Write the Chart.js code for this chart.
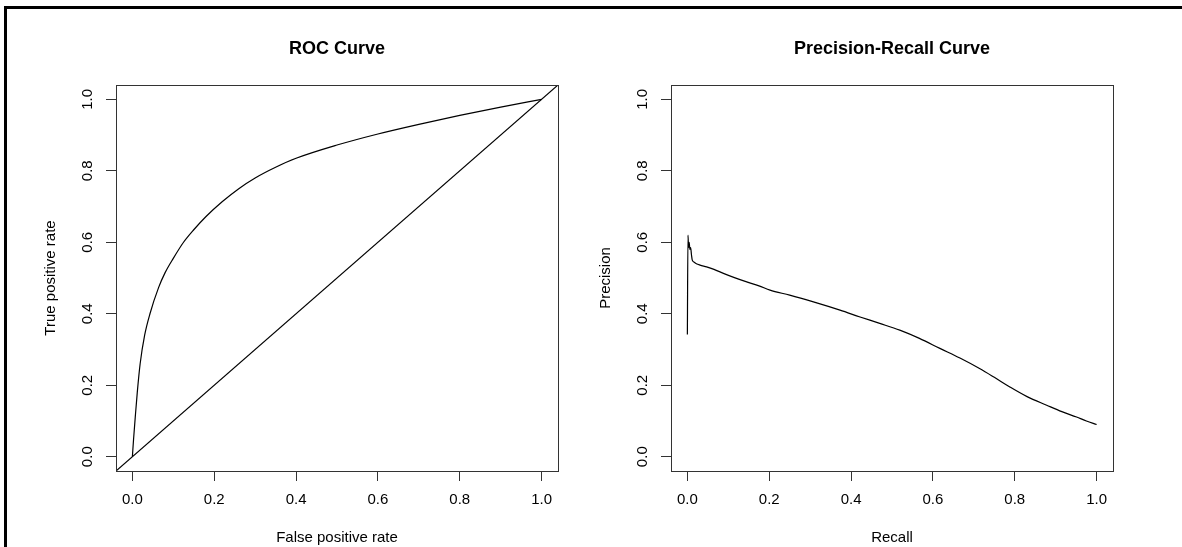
<!DOCTYPE html>
<html>
<head>
<meta charset="utf-8">
<title>ROC and Precision-Recall Curves</title>
<script src="https://cdn.jsdelivr.net/npm/chart.js@4.4.1/dist/chart.umd.min.js"></script>
<style>
  html, body { margin: 0; padding: 0; background: #fff; }
  #page { position: relative; width: 1182px; height: 547px; overflow: hidden; }
  #frame { position: absolute; left: 4px; top: 6px; right: 0; bottom: 0;
           border-top: 3px solid #000; border-left: 3px solid #000; }
  canvas { position: absolute; top: 0; }
</style>
</head>
<body>
<div id="page">
  <div id="frame"></div>
  <canvas id="roc" width="591" height="547" style="left:0"></canvas>
  <canvas id="pr" width="591" height="547" style="left:591px"></canvas>
</div>
<script>
// ROC curve, values
const fpr = [0, 0.003, 0.007, 0.012, 0.019, 0.03, 0.043, 0.064, 0.08, 0.10, 0.125, 0.15,
             0.18, 0.22, 0.26, 0.30, 0.35, 0.40, 0.50, 0.60, 0.70, 0.80, 0.90, 1.0];
const tpr = [0, 0.05, 0.11, 0.18, 0.26, 0.34, 0.40, 0.473, 0.515, 0.555, 0.60, 0.635,
             0.672, 0.714, 0.75, 0.78, 0.81, 0.835, 0.872, 0.903, 0.93, 0.955, 0.978, 1.0];

// precision-recall curve
const recall = [0, 0.0015, 0.003, 0.0045, 0.006, 0.008, 0.010, 0.012, 0.016, 0.022, 0.031, 0.047,
                0.065, 0.088, 0.115, 0.145, 0.175, 0.202, 0.25, 0.308, 0.373, 0.422, 0.470, 0.519,
                0.567, 0.617, 0.666, 0.715, 0.75, 0.788, 0.83, 0.878, 0.915, 0.951, 0.975, 1.0];
const precision = [0.342, 0.62, 0.585, 0.60, 0.58, 0.585, 0.565, 0.55, 0.545, 0.54, 0.536, 0.531,
                   0.524, 0.513, 0.501, 0.489, 0.478, 0.466, 0.452, 0.433, 0.410, 0.391, 0.373, 0.354,
                   0.331, 0.303, 0.276, 0.246, 0.222, 0.195, 0.168, 0.144, 0.126, 0.111, 0.100, 0.090];

// both axes run 0..1 with 4% slack each side (R default)
const axisMin = -0.04;
const axisMax = 1.04;
const tickValues = [0, 0.2, 0.4, 0.6, 0.8, 1.0];
const tickLabels = ['0.0', '0.2', '0.4', '0.6', '0.8', '1.0'];

const FONT = '"Liberation Sans", Arial, Helvetica, sans-serif';
const INK = '#000';

function toPoints(xs, ys) {
    return xs.map((x, i) => ({ x: x, y: ys[i] }));
}

// box around the plot region
var framePlugin = {
    id: 'frame',
    afterDraw: function(chart) {
        var a = chart.chartArea;
        var ctx = chart.ctx;
        ctx.save();
        ctx.strokeStyle = '#333';
        ctx.lineWidth = 1;
        ctx.strokeRect(a.left + 0.5, a.top + 0.5, a.right - a.left, a.bottom - a.top);
        ctx.restore();
    }
};

function axis(pos, title, size, titlePad) {
    var vertical = pos === 'left';
    return {
        type: 'linear',
        position: pos,
        min: axisMin,
        max: axisMax,
        afterBuildTicks: function(scale) {
            scale.ticks = tickValues.map(v => ({ value: v }));
        },
        afterFit: function(scale) {
            if (vertical) {
                scale.width = size;
            } else {
                scale.height = size;
            }
        },
        border: { display: false },
        grid: {
            drawOnChartArea: false,
            drawTicks: true,
            tickLength: 10,
            color: '#333',
            tickColor: '#333',
            lineWidth: 1
        },
        ticks: {
            font: { family: FONT, size: 15 },
            color: INK,
            padding: vertical ? 7.6 : 10,
            minRotation: vertical ? 90 : 0,
            maxRotation: vertical ? 90 : 0,
            crossAlign: vertical ? 'center' : 'near',
            callback: function(value, index) {
                return tickLabels[index];
            }
        },
        title: {
            display: true,
            text: title,
            font: { family: FONT, size: 15 },
            color: INK,
            padding: { top: titlePad, bottom: 0 }
        }
    };
}

function curve(points, smooth) {
    return {
        data: points,
        showLine: true,
        borderColor: INK,
        borderWidth: 1.2,
        pointRadius: 0,
        fill: false,
        cubicInterpolationMode: smooth ? 'monotone' : 'default'
    };
}

function makeChart(id, title, datasets, xTitle, yTitle, yWidth, yTitlePad, rightPad) {
    var ctx = document.getElementById(id).getContext('2d');
    return new Chart(ctx, {
        type: 'scatter',
        data: { datasets: datasets },
        options: {
            responsive: false,
            maintainAspectRatio: false,
            animation: false,
            layout: { padding: { left: 0, right: rightPad, top: 0, bottom: 0 } },
            plugins: {
                legend: { display: false },
                tooltip: { enabled: false },
                title: {
                    display: true,
                    text: title,
                    fullSize: false,
                    color: INK,
                    font: { family: FONT, size: 18, weight: 'bold', lineHeight: 1.2 },
                    padding: { top: 38.4, bottom: 25 }
                }
            },
            scales: {
                x: axis('bottom', xTitle, 76, 0),
                y: axis('left', yTitle, yWidth, yTitlePad)
            }
        },
        plugins: [framePlugin]
    });
}

makeChart('roc', 'ROC Curve', [
    curve(toPoints(fpr, tpr), true),
    curve(toPoints([axisMin, axisMax], [axisMin, axisMax]), false)
], 'False positive rate', 'True positive rate', 116, 42, 33);

makeChart('pr', 'Precision-Recall Curve', [
    curve(toPoints(recall, precision), true)
], 'Recall', 'Precision', 80, 6, 69);
</script>
</body>
</html>
